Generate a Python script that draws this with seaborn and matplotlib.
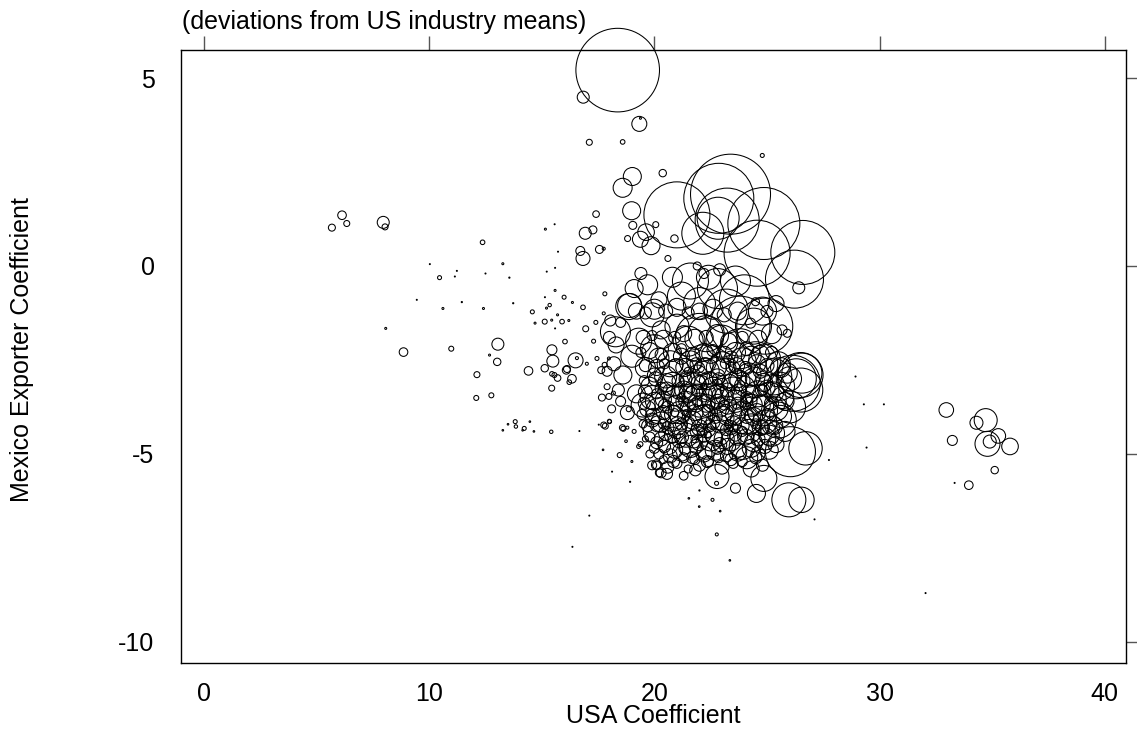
import numpy as np
import pandas as pd
import seaborn as sns
import matplotlib
matplotlib.use("Agg")
import matplotlib.pyplot as plt

# ---------------- data ----------------
# left-hand scatter of small industries
left_usa = [5.68, 6.13, 6.34, 7.96, 8.04, 8.07, 8.86, 10.03, 9.45, 10.46, 10.61, 11.14, 11.23, 11.45,
            10.98, 12.37, 12.41, 12.50, 12.68, 13.05, 13.02, 12.12, 12.09, 12.76, 13.27, 13.56, 13.73,
            14.41, 14.58, 14.70, 15.13, 15.16, 15.57, 15.72, 15.22, 15.59, 15.59, 15.21, 15.35, 15.14,
            15.99, 15.44, 15.70, 15.90, 16.20, 15.59, 16.36, 16.83, 16.95, 16.03, 15.45, 15.49, 15.13,
            16.09, 16.12, 16.50, 16.56, 15.45, 15.56, 15.70, 16.34, 16.22, 15.44, 17.45, 13.27, 13.50,
            13.82, 13.85, 14.15, 14.22, 14.47, 15.42, 16.67, 17.53, 14.65]
left_mex = [1.02, 1.35, 1.13, 1.16, 1.04, -1.66, -2.29, 0.05, -0.90, -0.31, -1.13, -0.28, -0.13, -0.96,
            -2.20, 0.63, -1.13, -0.20, -2.37, -2.08, -2.55, -2.89, -3.51, -3.44, 0.06, -0.31, -0.99,
            -2.79, -1.22, -1.52, -1.48, 0.98, 1.11, 0.38, -0.15, -0.05, -0.65, -1.12, -1.04, -0.83,
            -0.83, -1.44, -1.30, -1.48, -1.45, -1.66, -0.97, -1.10, -1.67, -2.01, -2.23, -2.53, -2.72,
            -2.77, -2.74, -2.51, -2.45, -2.87, -2.90, -2.98, -3.00, -3.09, -3.25, -2.46, -4.37, -4.21,
            -4.14, -4.27, -4.37, -4.32, -4.14, -4.41, -4.39, -4.22, -4.40]
left_wroot = [3.5, 4.3, 3, 6, 3, 1, 4.3, 0.5, 0.5, 2, 1, 0.5, 0.5, 0.6,
              2.5, 2.3, 1, 0.5, 1, 6, 3.7, 3, 2.5, 2.5, 1, 0.6, 0.6,
              4.3, 2, 1, 2.5, 1, 0.5, 0.5, 0.5, 0.5, 1, 1, 1.7, 0.5,
              2, 1, 1, 2.3, 1, 0.5, 1, 2.3, 3, 2.3, 5, 6, 3.7,
              4, 3.5, 7.5, 1.5, 2.3, 2.5, 3.3, 4.3, 2.3, 3, 2, 0.8, 0.8,
              2, 1.7, 0.8, 2, 0.8, 1.7, 0.5, 0.5, 0.8]

# upper part (large positive deviations)
top_usa = [18.37, 16.84, 19.33, 19.38, 17.11, 18.59, 19.02, 18.59, 20.37, 17.41, 18.99, 24.79, 19.04,
           17.27, 16.93, 16.71, 16.83, 17.56, 17.75, 18.81, 19.38, 19.63, 19.85, 20.06, 20.89, 21.00,
           22.86, 23.38, 23.23, 22.83, 22.15, 24.86, 24.56, 26.59, 26.22, 26.41]
top_mex = [5.21, 4.49, 3.78, 3.93, 3.29, 3.30, 2.38, 2.08, 2.47, 1.38, 1.47, 2.94, 1.08,
           0.96, 0.87, 0.40, 0.20, 0.44, 0.46, 0.73, 0.71, 0.90, 0.54, 1.10, 0.73, 1.36,
           1.80, 1.91, 1.22, 1.27, 0.87, 1.13, 0.34, 0.36, -0.35, -0.58]
top_wroot = [41.8, 6, 7.5, 1, 3, 2.3, 9, 9.5, 3.7, 3.3, 9, 2, 4,
             4, 6, 4.5, 7, 4, 1.5, 3, 8, 8.3, 9, 3, 3.7, 33,
             35, 40, 32, 21, 21, 36, 33, 32, 29, 6]

# right-hand group and isolated far points
right_usa = [28.93, 29.30, 30.19, 29.42, 27.75, 27.11, 32.04, 33.33, 32.96, 33.23, 34.71, 34.30,
             34.79, 34.89, 35.27, 35.79, 35.11, 33.96]
right_mex = [-2.94, -3.68, -3.68, -4.83, -5.16, -6.74, -8.70, -5.77, -3.83, -4.64, -4.10, -4.17,
             -4.73, -4.67, -4.52, -4.80, -5.43, -5.83]
right_wroot = [0.5, 0.5, 0.5, 0.5, 0.5, 0.5, 0.5, 0.5, 7.3, 5, 11.5, 6.5,
               12.5, 6.5, 7.3, 8.3, 3.7, 4.3]

# edges of the main cluster
edge_usa = [25.97, 26.53, 26.71, 26.04, 24.53, 23.60, 24.86, 23.35, 22.76, 22.58, 22.77, 21.53, 21.99,
            22.92, 22.00, 17.11, 18.92, 18.12, 17.72, 18.46, 17.82, 18.00, 18.62, 18.74, 19.38, 21.30,
            20.56, 20.22, 21.82, 22.78, 20.09, 16.36, 26.49, 26.55, 26.12, 25.00, 24.27, 24.49, 25.67,
            25.90, 17.80, 17.75, 18.04, 17.79, 17.64, 17.90, 17.67, 18.18, 18.86, 18.01, 17.75, 18.58,
            18.27, 18.86, 18.90, 17.98, 17.98, 24.90, 23.80, 22.00]
edge_mex = [-6.22, -6.22, -4.85, -4.94, -6.05, -5.91, -5.65, -7.83, -5.78, -6.22, -7.14, -6.18, -6.40,
            -6.52, -5.97, -6.64, -5.74, -5.47, -4.89, -5.03, -4.26, -4.13, -4.33, -4.66, -4.74, -5.58,
            -5.53, -5.50, -5.43, -5.60, -5.29, -7.47, -2.90, -2.85, -3.12, -1.21, -1.52, -0.95, -1.70,
            -1.79, -0.74, -1.26, -1.45, -2.63, -2.77, -3.21, -3.50, -3.38, -3.81, -4.14, -4.23, -4.30,
            -1.75, -1.08, -1.05, -2.46, -3.47, -1.60, -1.60, -1.90]
edge_wroot = [17, 12.7, 16.7, 25, 9, 5, 13, 0.8, 2, 1.5, 1.5, 0.8, 0.8,
              0.8, 0.6, 0.5, 0.6, 0.5, 0.8, 2.5, 3, 2, 2.5, 1.3, 2.5, 4.3,
              5.5, 4, 5.7, 12, 5, 0.5, 22.5, 20, 28, 6, 5, 4, 5,
              4, 2, 1.5, 5.5, 2.5, 3.5, 3, 3.5, 2, 2.5, 2, 3, 3,
              15, 13, 12, 1.5, 3, 28, 30, 24]

# dense core of the cluster (first layer)
core_usa = [18.0, 18.3, 18.5, 19.1, 19.4, 19.7, 19.9, 20.2, 18.2, 18.6, 19.0, 19.3, 19.6, 20.0, 20.3,
            17.9, 18.4, 18.1, 18.5, 18.8, 19.2, 19.5, 17.3, 17.0, 17.4,
            20.8, 21.2, 21.6, 22.0, 22.4, 22.8, 23.2, 23.6, 24.0, 24.4, 24.8, 25.2, 21.0, 21.5, 22.3,
            23.0, 23.8, 24.5, 25.4, 22.2, 22.9, 21.9, 20.6,
            20.2, 20.7, 21.2, 21.6, 22.1, 22.5, 23.0, 23.4, 23.9, 24.3, 24.9, 25.5,
            20.0, 20.5, 21.0, 21.4, 21.9, 22.3, 22.8, 23.2, 23.7, 24.2, 24.7, 25.3, 25.9,
            19.8, 20.3, 20.8, 21.3, 21.7, 22.1, 22.6, 23.0, 23.5, 24.0, 24.5, 25.0, 25.6, 26.3, 26.5,
            19.9, 20.4, 20.9, 21.3, 21.8, 22.2, 22.7, 23.1, 23.6, 24.1, 24.6, 25.1, 25.7,
            19.7, 20.2, 20.6, 21.1, 21.5, 22.0, 22.4, 22.9, 23.3, 23.8, 24.3, 24.8, 25.4, 26.0,
            19.9, 20.3, 20.8, 21.2, 21.7, 22.1, 22.6, 23.0, 23.5, 24.0, 24.4, 24.9, 25.5,
            20.0, 20.5, 21.0, 21.4, 21.9, 22.3, 22.8, 23.2, 23.7, 24.2, 24.7, 25.2, 25.8,
            20.1, 20.6, 21.1, 21.6, 22.0, 22.5, 22.9, 23.4, 23.9, 24.4, 24.9, 25.4,
            20.2, 20.7, 21.2, 21.7, 22.2, 22.7, 23.2, 23.7, 24.1, 24.6, 25.1,
            20.1, 20.6, 21.0, 21.5, 22.0, 22.4, 23.0, 23.5, 24.3, 24.8,
            19.5, 19.6, 19.8, 19.3, 19.9, 20.3, 19.1, 18.8, 19.0,
            21.6, 21.9, 22.2, 22.5, 22.8, 21.4, 22.1, 22.7, 23.1, 21.8, 23.3, 22.4, 23.6, 21.2,
            23.9, 24.2, 24.5, 22.0, 21.5, 23.4, 20.6, 20.9, 20.4, 20.8, 24.8, 25.3]
core_mex = [-1.9, -2.1, -1.5, -0.6, -0.2, -0.5, -1.3, -0.9, -2.6, -2.9, -2.4, -2.0, -2.7, -2.2, -1.7,
            -2.8, -3.3, -3.8, -3.6, -3.9, -3.4, -3.7, -2.0, -2.6, -1.5,
            -0.3, -0.8, -0.4, -1.0, -0.3, -0.6, -1.2, -0.4, -0.9, -1.6, -1.2, -1.8, -1.6, -2.0, -1.8,
            -2.0, -2.2, -2.6, -1.0, -0.2, -0.1, 0.0, 0.2,
            -2.45, -2.6, -2.4, -2.55, -2.5, -2.35, -2.6, -2.45, -2.55, -2.4, -2.5, -2.6,
            -2.9, -2.95, -2.85, -3.0, -2.9, -2.8, -2.95, -2.85, -3.0, -2.9, -2.8, -2.95, -2.85,
            -3.2, -3.25, -3.15, -3.3, -3.2, -3.1, -3.25, -3.15, -3.3, -3.2, -3.1, -3.25, -3.2, -3.0, -3.3,
            -3.5, -3.55, -3.45, -3.6, -3.5, -3.4, -3.55, -3.45, -3.6, -3.5, -3.4, -3.55, -3.5,
            -3.8, -3.85, -3.75, -3.9, -3.8, -3.7, -3.85, -3.75, -3.9, -3.8, -3.7, -3.85, -3.8, -3.75,
            -4.1, -4.15, -4.05, -4.2, -4.1, -4.0, -4.15, -4.05, -4.2, -4.1, -4.0, -4.15, -4.1,
            -4.4, -4.45, -4.35, -4.5, -4.4, -4.3, -4.45, -4.35, -4.5, -4.4, -4.3, -4.45, -4.4,
            -4.7, -4.75, -4.65, -4.8, -4.7, -4.6, -4.75, -4.65, -4.8, -4.7, -4.6, -4.75,
            -5.0, -5.05, -4.95, -5.1, -5.0, -4.9, -5.05, -4.95, -5.1, -5.0, -4.9,
            -5.3, -5.35, -5.25, -5.4, -5.3, -5.2, -5.35, -5.25, -5.4, -5.3,
            -4.2, -4.6, -5.0, -4.8, -5.3, -5.5, -4.4, -4.3, -5.2,
            -3.3, -3.6, -3.2, -3.7, -3.4, -3.9, -4.3, -3.1, -3.7, -4.6, -4.2, -4.5, -3.3, -3.5,
            -4.4, -3.6, -4.2, -2.7, -2.8, -2.7, -3.3, -3.9, -4.2, -4.6, -3.3, -4.3]
core_wroot = [6, 8, 5, 9, 6, 10, 12, 8, 7, 9, 11, 13, 10, 14, 9,
              5, 6, 4, 5, 7, 9, 12, 2, 1.5, 2,
              10, 14, 18, 16, 12, 20, 22, 15, 25, 18, 14, 10, 12, 15, 18,
              16, 20, 22, 8, 5, 6, 4, 3,
              10, 13, 8, 11, 15, 9, 12, 7, 14, 10, 16, 12,
              7, 11, 14, 6, 10, 13, 8, 15, 9, 12, 7, 18, 10,
              9, 6, 12, 9, 14, 7, 11, 6, 13, 10, 15, 8, 14, 20, 22,
              12, 8, 10, 5, 12, 8, 14, 9, 11, 6, 13, 17, 11,
              8, 13, 6, 11, 8, 12, 6, 10, 13, 7, 11, 15, 12, 16,
              7, 10, 13, 6, 9, 11, 7, 12, 8, 14, 9, 12, 18,
              11, 7, 9, 12, 7, 10, 13, 6, 10, 12, 8, 13, 10,
              6, 10, 7, 11, 8, 12, 7, 10, 13, 9, 11, 8,
              5, 7, 9, 6, 8, 10, 6, 9, 11, 7, 9,
              4, 6, 5, 4, 6, 5, 7, 5, 8, 6,
              4, 3, 4, 2, 4.5, 5, 2, 1.5, 1,
              4, 5, 3, 4, 5, 3, 4, 3, 5, 4, 4, 3, 4, 4,
              5, 4, 5, 5, 4, 5, 5, 4, 5, 4, 5, 6]

# dense core of the cluster (second, offset layer)
core2_usa = [19.2, 19.6, 20.0, 20.5, 21.0, 21.5, 22.0, 22.6, 23.1, 23.7,
             19.5, 19.9, 20.4, 20.9, 21.3, 21.8, 22.3, 22.8, 23.3, 23.9, 24.6,
             19.4, 19.8, 20.3, 20.8, 21.2, 21.7, 22.2, 22.6, 23.1, 23.6, 24.1, 24.7, 25.2,
             19.6, 20.1, 20.45, 20.95, 21.35, 21.85, 22.25, 22.75, 23.15, 23.65, 24.05, 24.55, 25.0, 25.6,
             19.55, 20.05, 20.55, 21.05, 21.45, 21.95, 22.4, 22.85, 23.35, 23.8, 24.35, 24.85, 25.4, 26.0,
             19.6, 20.1, 20.55, 21.05, 21.5, 21.9, 22.35, 22.85, 23.25, 23.75, 24.25, 24.75, 25.3,
             19.55, 20.0, 20.45, 20.95, 21.4, 21.85, 22.3, 22.8, 23.25, 23.7, 24.2, 24.7, 25.2, 25.8,
             19.45, 19.95, 20.4, 20.85, 21.3, 21.8, 22.25, 22.7, 23.15, 23.6, 24.1, 24.55, 25.05, 25.6,
             19.7, 20.15, 20.6, 21.05, 21.5, 22.0, 22.45, 22.9, 23.4, 23.85, 24.3, 24.8, 25.3,
             19.8, 20.3, 20.8, 21.25, 21.75, 22.2, 22.65, 23.1, 23.6, 24.05, 24.6, 25.1,
             20.0, 20.45, 20.9, 21.35, 21.85, 22.3, 22.8, 23.25, 23.75, 24.3, 24.9,
             20.4, 20.85, 21.3, 21.8, 22.35, 22.85, 23.4, 23.9, 24.5]
core2_mex = [-1.2, -1.25, -1.15, -1.2, -1.1, -1.25, -1.2, -1.15, -1.3, -1.2,
             -1.9, -1.85, -1.95, -1.9, -1.8, -1.95, -1.9, -1.85, -2.0, -1.9, -1.95,
             -2.3, -2.25, -2.35, -2.3, -2.2, -2.35, -2.3, -2.25, -2.35, -2.3, -2.2, -2.35, -2.3,
             -2.65, -2.7, -2.6, -2.65, -2.7, -2.6, -2.65, -2.7, -2.6, -2.65, -2.7, -2.6, -2.65, -2.7,
             -3.05, -3.0, -3.1, -3.05, -3.0, -3.1, -3.05, -3.0, -3.1, -3.05, -3.0, -3.1, -3.05, -3.0,
             -3.35, -3.4, -3.3, -3.35, -3.4, -3.3, -3.35, -3.4, -3.3, -3.35, -3.4, -3.3, -3.35,
             -3.65, -3.6, -3.7, -3.65, -3.6, -3.7, -3.65, -3.6, -3.7, -3.65, -3.6, -3.7, -3.65, -3.6,
             -3.95, -4.0, -3.9, -3.95, -4.0, -3.9, -3.95, -4.0, -3.9, -3.95, -4.0, -3.9, -3.95, -4.0,
             -4.25, -4.2, -4.3, -4.25, -4.2, -4.3, -4.25, -4.2, -4.3, -4.25, -4.2, -4.3, -4.25,
             -4.55, -4.6, -4.5, -4.55, -4.6, -4.5, -4.55, -4.6, -4.5, -4.55, -4.6, -4.5,
             -4.85, -4.8, -4.9, -4.85, -4.8, -4.9, -4.85, -4.8, -4.9, -4.85, -4.8,
             -5.15, -5.2, -5.1, -5.15, -5.2, -5.1, -5.15, -5.2, -5.1]
core2_wroot = [8, 6, 10, 7, 9, 6, 8, 10, 7, 9,
               7, 5, 9, 6, 8, 10, 7, 11, 8, 6, 9,
               5, 8, 6, 9, 5, 7, 9, 6, 8, 10, 7, 9, 6,
               6, 8, 5, 7, 9, 6, 8, 10, 5, 8, 6, 9, 7, 10,
               5, 7, 9, 6, 8, 7, 9, 6, 8, 10, 7, 9, 6, 12,
               7, 5, 8, 7, 9, 6, 8, 10, 7, 8, 9, 6, 10,
               6, 9, 6, 8, 10, 7, 9, 7, 9, 6, 8, 10, 7, 9,
               5, 8, 7, 9, 6, 8, 10, 7, 8, 10, 7, 9, 6, 11,
               6, 8, 6, 9, 7, 8, 6, 9, 7, 8, 10, 7, 9,
               5, 7, 8, 6, 9, 7, 8, 10, 6, 8, 7, 10,
               5, 6, 8, 6, 7, 9, 6, 8, 7, 9, 7,
               4, 6, 5, 5, 6, 5, 6, 5, 6]

usa_coef = left_usa + top_usa + right_usa + edge_usa + core_usa + core2_usa
mex_coef = left_mex + top_mex + right_mex + edge_mex + core_mex + core2_mex
weight_root = left_wroot + top_wroot + right_wroot + edge_wroot + core_wroot + core2_wroot

df = pd.DataFrame({"usa": usa_coef, "mex": mex_coef, "w": np.array(weight_root) ** 2})

x_ticks = [0, 10, 20, 30, 40]
y_ticks = [-10, -5, 0, 5]

# ---------------- plot ----------------
sns.set_theme(style="white")
plt.rcParams["font.family"] = ["Liberation Sans", "DejaVu Sans"]

W, H, DPI = 1137, 732, 100
fig = plt.figure(figsize=(W / DPI, H / DPI), dpi=DPI)
fig.patch.set_facecolor("white")
ax = fig.add_axes([181 / W, 1 - 663 / H, (1126 - 181) / W, (663 - 50) / H])

wmax = df["w"].max()
k = (2 * 0.72) ** 2  # area scale so that bubble area is proportional to weight
sns.scatterplot(data=df, x="usa", y="mex", size="w", sizes=(0, k * wmax),
                size_norm=(0, wmax), facecolor="none", edgecolor="black",
                linewidth=0.75, legend=False, ax=ax)
for coll in ax.collections:
    coll.set_facecolor("none")
    coll.set_edgecolor("black")
    coll.set_clip_on(False)

ax.set_xlim(-1.02, 40.94)
ax.set_ylim(-10.56, 5.745)
ax.set_xticks(x_ticks)
ax.set_yticks(y_ticks)
ax.set_xticklabels([str(t) for t in x_ticks])
ax.set_yticklabels([str(t) for t in y_ticks])
ax.tick_params(axis="both", direction="out", length=10, width=1.0, color="#555555",
               labelsize=18, labelcolor="black", top=True, right=True,
               labeltop=False, labelright=False)
ax.tick_params(axis="x", pad=4)
ax.tick_params(axis="y", pad=9)
for s in ax.spines.values():
    s.set_color("black")
    s.set_linewidth(1.0)
    s.set_visible(True)
ax.set_xlabel("")
ax.set_ylabel("")
ax.grid(False)
ax.set_facecolor("white")

fig.text(182 / W, 1 - 22 / H, "(deviations from US industry means)", ha="left", va="center",
         fontsize=18, color="black")
fig.text(653 / W, 1 - 716 / H, "USA Coefficient", ha="center", va="center", fontsize=18,
         color="black")
fig.text(22 / W, 1 - 350 / H, "Mexico Exporter Coefficient", ha="center", va="center",
         rotation=90, fontsize=18, color="black")

fig.savefig("out.png", dpi=DPI, facecolor="white")
